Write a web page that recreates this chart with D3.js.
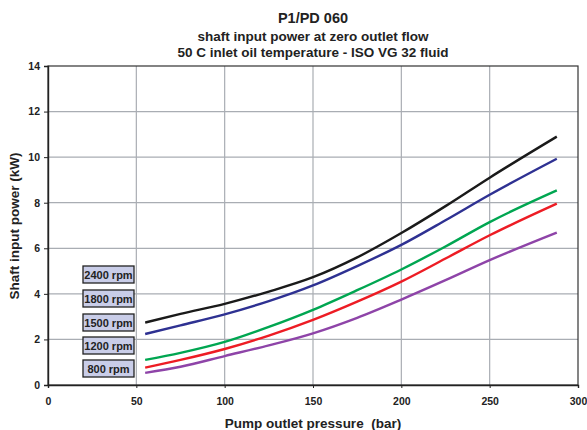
<!DOCTYPE html>
<html><head><meta charset="utf-8">
<script src="https://cdn.jsdelivr.net/npm/d3@7/dist/d3.min.js"></script>
<style>body{margin:0;background:#fff}svg{display:block;font-family:"Liberation Sans",Arial,sans-serif}</style>
</head><body>
<svg id="c" width="587" height="430"></svg>
<script>
const pressure = [55, 75, 100, 125, 150, 175, 200, 225, 250, 288];
const rpm2400 = [2.74, 3.12, 3.56, 4.1, 4.73, 5.6, 6.67, 7.85, 9.1, 10.9];
const rpm1800 = [2.24, 2.62, 3.1, 3.68, 4.37, 5.22, 6.15, 7.23, 8.35, 9.93];
const rpm1500 = [1.1, 1.41, 1.89, 2.55, 3.3, 4.16, 5.07, 6.08, 7.15, 8.54];
const rpm1200 = [0.76, 1.1, 1.58, 2.17, 2.86, 3.66, 4.54, 5.55, 6.57, 7.96];
const rpm800 = [0.53, 0.8, 1.27, 1.74, 2.27, 2.95, 3.75, 4.6, 5.48, 6.69];
const seriesNames = ["2400 rpm", "1800 rpm", "1500 rpm", "1200 rpm", "800 rpm"];
const xTicks = [0, 50, 100, 150, 200, 250, 300];
const yTicks = [0, 2, 4, 6, 8, 10, 12, 14];
const titleLines = ["P1/PD 060", "shaft input power at zero outlet flow", "50 C inlet oil temperature - ISO VG 32 fluid"];

const seriesValues = [rpm2400, rpm1800, rpm1500, rpm1200, rpm800];
const colors = ["#1a1a1a", "#2e3192", "#00a651", "#ed1c24", "#8e44a8"];

const svg = d3.select("#c");
const L = 48, R = 578, T = 66, B = 385;
const x = d3.scaleLinear().domain([0, 300]).range([L, R]);
const y = d3.scaleLinear().domain([0, 14]).range([B, T]);

// gridlines
svg.append("g").selectAll("line").data(yTicks.slice(1, -1)).join("line")
  .attr("x1", L).attr("x2", R).attr("y1", d => y(d)).attr("y2", d => y(d))
  .attr("stroke", "#a9adb3").attr("stroke-width", 1.2);
svg.append("g").selectAll("line").data(xTicks.slice(1, -1)).join("line")
  .attr("y1", T).attr("y2", B).attr("x1", d => x(d)).attr("x2", d => x(d))
  .attr("stroke", "#a9adb3").attr("stroke-width", 1.2);

// frame
svg.append("rect").attr("x", L).attr("y", T).attr("width", R - L).attr("height", B - T)
  .attr("fill", "none").attr("stroke", "#333").attr("stroke-width", 1.2);

// axes
const yAxis = svg.append("g").attr("transform", `translate(${L},0)`)
  .call(d3.axisLeft(y).tickValues(yTicks).tickSize(4).tickPadding(4));
const xAxis = svg.append("g").attr("transform", `translate(0,${B})`)
  .call(d3.axisBottom(x).tickValues(xTicks).tickSize(3).tickPadding(10));
[yAxis, xAxis].forEach(a => {
  a.select(".domain").attr("stroke", "#222").attr("stroke-width", 1.4);
  a.selectAll(".tick line").attr("stroke", "#222");
  a.selectAll("text").attr("font-size", 10.5).attr("font-weight", "bold").attr("fill", "#222")
    .attr("font-family", "Liberation Sans, Arial, sans-serif");
});

// lines
const line = d3.line().x((d, i) => x(pressure[i])).y(d => y(d)).curve(d3.curveMonotoneX);
svg.append("g").selectAll("path").data(seriesValues).join("path")
  .attr("d", d => line(d)).attr("fill", "none")
  .attr("stroke", (d, i) => colors[i]).attr("stroke-width", 2.4);

// label boxes
const boxTops = [266, 290, 314, 337, 360];
const lb = svg.append("g").selectAll("g").data(seriesNames).join("g")
  .attr("transform", (d, i) => `translate(83,${boxTops[i]})`);
lb.append("rect").attr("width", 51).attr("height", 17)
  .attr("fill", "#c9cde8").attr("stroke", "#222").attr("stroke-width", 1.3);
lb.append("text").attr("x", 25.5).attr("y", 12.7).attr("text-anchor", "middle")
  .attr("font-size", 11).attr("font-weight", "bold").attr("fill", "#222").text(d => d);

// titles
const tY = [23, 41, 57], tS = [14.5, 13.5, 13.5];
svg.append("g").selectAll("text").data(titleLines).join("text")
  .attr("x", 313).attr("y", (d, i) => tY[i]).attr("text-anchor", "middle")
  .attr("font-size", (d, i) => tS[i]).attr("font-weight", "bold").attr("fill", "#222").text(d => d);

svg.append("text").attr("x", 313).attr("y", 428).attr("text-anchor", "middle")
  .attr("xml:space", "preserve").style("white-space", "pre")
  .attr("font-size", 13.5).attr("font-weight", "bold").attr("fill", "#222").text("Pump outlet pressure  (bar)");
svg.append("text").attr("transform", "translate(19,226) rotate(-90)").attr("text-anchor", "middle")
  .attr("font-size", 13.5).attr("font-weight", "bold").attr("fill", "#222").text("Shaft input power (kW)");
</script>
</body></html>
